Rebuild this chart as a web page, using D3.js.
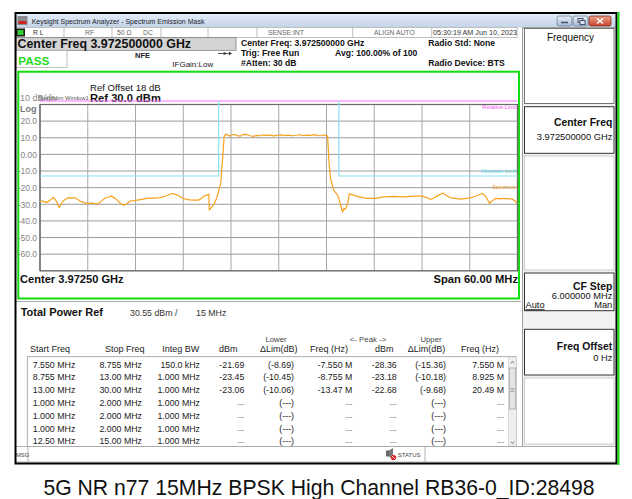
<!DOCTYPE html>
<html><head><meta charset="utf-8">
<script src="https://cdn.jsdelivr.net/npm/d3@7"></script>
<style>body{margin:0;background:#fff}svg{display:block;font-family:"Liberation Sans",Arial,sans-serif}</style>
</head><body><svg id="c" width="632" height="499"></svg>
<script>
// ---------- DATA ----------
const traceFreq = [-30.0,-29.6,-29.2,-28.8,-28.3,-27.9,-27.6,-27.3,-27.1,-26.8,-26.4,-26.0,-25.7,-25.3,-25.0,-24.5,-24.1,-23.6,-23.1,-22.7,-22.2,-21.8,-21.4,-21.0,-20.6,-20.3,-19.9,-19.5,-19.1,-18.7,-18.2,-17.8,-17.2,-16.6,-15.8,-14.9,-14.2,-13.4,-12.8,-12.0,-11.4,-10.9,-10.1,-9.7,-9.4,-9.0,-8.78,-8.72,-8.5,-8.2,-7.9,-7.57,-7.27,-7.15,-7.02,-6.86,-6.7,-6.4,-6.1,-5.8,-5.5,-5.2,-4.8,-4.5,-4.0,-3.6,-3.2,-2.8,-2.3,-1.9,-1.5,-1.0,-0.6,-0.2,0.3,0.8,1.2,1.7,2.2,2.6,3.1,3.6,4.0,4.5,5.0,5.4,5.8,6.14,6.31,6.48,6.7,6.9,7.15,7.4,7.6,7.74,7.9,8.03,8.2,8.37,8.5,8.66,8.87,9.41,10.25,11.09,12.14,13.2,14.45,15.7,16.96,18.0,18.6,19.06,19.5,19.9,20.3,20.65,21.1,21.57,22.2,22.83,23.4,24.08,24.8,25.55,25.97,26.5,26.8,27.23,27.8,28.27,28.8,29.33,29.7,29.96];
const traceLevel = [-28.5,-28.0,-29.0,-27.8,-25.9,-28.5,-31.9,-30.0,-28.0,-27.0,-26.0,-26.3,-25.9,-26.8,-28.0,-29.0,-29.5,-29.3,-29.6,-29.7,-27.8,-26.2,-25.6,-25.1,-26.3,-27.5,-29.5,-30.5,-29.8,-28.0,-27.8,-27.5,-27.0,-26.5,-26.3,-26.0,-25.0,-23.5,-24.3,-26.5,-27.2,-27.5,-27.5,-26.5,-25.0,-24.5,-23.9,-33.6,-32.0,-30.5,-27.5,-22.5,-16.5,-8.0,-0.4,10.6,12.2,11.6,11.0,11.8,12.0,11.3,11.0,11.9,12.0,11.2,10.8,11.4,11.2,11.7,11.4,11.6,11.1,11.5,11.7,11.3,11.6,11.2,11.5,11.8,11.3,11.6,11.4,11.9,11.2,11.5,11.6,11.0,-4.4,-13.5,-18.0,-21.5,-23.0,-24.5,-27.5,-29.5,-33.0,-34.6,-32.5,-33.0,-31.5,-29.5,-23.7,-24.5,-25.7,-26.5,-26.5,-25.5,-25.3,-25.5,-25.1,-25.1,-26.0,-27.1,-26.2,-25.1,-24.0,-23.3,-24.8,-26.1,-26.5,-26.9,-26.6,-26.1,-25.0,-23.5,-25.0,-29.5,-28.0,-26.5,-26.8,-26.5,-26.6,-26.9,-28.0,-29.5];
const absLimitFreqLeft = [-30, -7.55, -7.55];
const absLimitLevelLeft = [-13, -13, 32.1];
const absLimitFreqRight = [7.55, 7.55, 30];
const absLimitLevelRight = [32.1, -13, -13];
const relLimitFreq = [-30, 30];
const relLimitLevel = [32.1, 32.1];
const yTicks = [20, 10, 0, -10, -20, -30, -40, -50, -60];
const yTickLabels = ["20.0","10.0","0.00","-10.0","-20.0","-30.0","-40.0","-50.0","-60.0"];
const xGridFreqs = [-30,-24,-18,-12,-6,0,6,12,18,24,30];
const yGridLevels = [30,20,10,0,-10,-20,-30,-40,-50,-60,-70];

const colStart = ["7.550 MHz","8.755 MHz","13.00 MHz","1.000 MHz","1.000 MHz","1.000 MHz","12.50 MHz"];
const colStop  = ["8.755 MHz","13.00 MHz","30.00 MHz","2.000 MHz","2.000 MHz","2.000 MHz","15.00 MHz"];
const colBW    = ["150.0 kHz","1.000 MHz","1.000 MHz","1.000 MHz","1.000 MHz","1.000 MHz","1.000 MHz"];
const colLowDbm = ["-21.69","-23.45","-23.06","---","---","---","---"];
const colLowLim = ["(-8.69)","(-10.45)","(-10.06)","(---)","(---)","(---)","(---)"];
const colLowFreq = ["-7.550 M","-8.755 M","-13.47 M","---","---","---","---"];
const colUpDbm = ["-28.36","-23.18","-22.68","---","---","---","---"];
const colUpLim = ["(-15.36)","(-10.18)","(-9.68)","(---)","(---)","(---)","(---)"];
const colUpFreq = ["7.550 M","8.925 M","20.49 M","---","---","---","---"];
const tableHeaders = ["Start Freq","Stop Freq","Integ BW","dBm","\u0394Lim(dB)","Freq (Hz)","dBm","\u0394Lim(dB)","Freq (Hz)"];

// ---------- DRAW ----------
const svg = d3.select("#c");
function txt(x, y, s, size, opts = {}) {
  const t = svg.append("text").attr("x", x).attr("y", y).text(s)
    .attr("font-size", size).attr("fill", opts.fill || "#000");
  if (opts.bold) t.attr("font-weight", "bold");
  if (opts.anchor) t.attr("text-anchor", opts.anchor);
  return t;
}
function rect(x, y, w, h, fill, stroke, sw) {
  return svg.append("rect").attr("x", x).attr("y", y).attr("width", w).attr("height", h)
    .attr("fill", fill || "none").attr("stroke", stroke || "none").attr("stroke-width", sw || 1);
}
function line(x1, y1, x2, y2, stroke, sw) {
  return svg.append("line").attr("x1", x1).attr("y1", y1).attr("x2", x2).attr("y2", y2)
    .attr("stroke", stroke).attr("stroke-width", sw || 1);
}

// window background
rect(15, 13, 602, 451, "#ffffff");

// title bar
const defs = svg.append("defs");
const g1 = defs.append("linearGradient").attr("id", "tb").attr("x1", 0).attr("y1", 0).attr("x2", 0).attr("y2", 1);
g1.append("stop").attr("offset", "0").attr("stop-color", "#e3ecf7");
g1.append("stop").attr("offset", "1").attr("stop-color", "#c3d3e8");
rect(15, 14, 602, 13.5, "url(#tb)");
rect(17.5, 16, 10, 9, "#8a8a8a");
rect(18.5, 21, 8, 3, "#cc2222");
txt(31.7, 23.5, "Keysight Spectrum Analyzer - Spectrum Emission Mask", 7, { fill: "#1a1a2a" });
// window buttons
const bg = defs.append("linearGradient").attr("id", "bb").attr("x1", 0).attr("y1", 0).attr("x2", 0).attr("y2", 1);
bg.append("stop").attr("offset", "0").attr("stop-color", "#e8eef7");
bg.append("stop").attr("offset", "1").attr("stop-color", "#a9bad3");
const rg = defs.append("linearGradient").attr("id", "rb").attr("x1", 0).attr("y1", 0).attr("x2", 0).attr("y2", 1);
rg.append("stop").attr("offset", "0").attr("stop-color", "#f0a08c");
rg.append("stop").attr("offset", "1").attr("stop-color", "#c8452c");
rect(557, 16, 15, 10, "url(#bb)", "#6d7f9a", 0.8).attr("rx", 2);
rect(573, 16, 15, 10, "url(#bb)", "#6d7f9a", 0.8).attr("rx", 2);
rect(589, 16, 22, 10, "url(#rb)", "#7a2a1a", 0.8).attr("rx", 2);
line(561, 22.5, 568, 22.5, "#44546e", 1.5);
rect(578, 18.5, 5, 4, "none", "#44546e", 1);
rect(580, 20.5, 5, 4, "#dde6f2", "#44546e", 1);
line(597, 18.5, 603, 23.5, "#fff", 1.6);
line(603, 18.5, 597, 23.5, "#fff", 1.6);

// status row
rect(15.5, 27.5, 501.5, 10, "#fff", "#b0b0b0", 0.8);
[64, 112, 161, 208, 257, 352.7, 431.7].forEach(x => line(x, 27.5, x, 37.5, "#b0b0b0", 0.8));
rect(16, 28.5, 9, 8, "#1a1a1a");
rect(17.5, 30, 6, 5, "#33cc33");
txt(33, 34.5, "R L", 6.8, { fill: "#333" });
txt(85, 34.5, "RF", 6.8, { fill: "#666" });
txt(117, 34.5, "50 \u03A9", 6.8, { fill: "#666" });
txt(143, 34.5, "DC", 6.8, { fill: "#666" });
txt(268, 34.5, "SENSE:INT", 6.8, { fill: "#666" });
txt(374, 34.5, "ALIGN AUTO", 6.8, { fill: "#666" });
txt(433, 34.5, "05:30:19 AM Jun 10, 2023", 7.2, { fill: "#333" });

// center freq / pass
rect(16, 37.7, 220, 12.6, "#d4d4d4", "#808080", 0.8);
txt(17.5, 48, "Center Freq 3.972500000 GHz", 12.4, { bold: true, fill: "#111" });
rect(16, 50.5, 51, 17, "#fff", "#b0b0b0", 0.8);
txt(18.3, 65, "PASS", 11.7, { bold: true, fill: "#22dd22" });
txt(135, 57.5, "NFE", 7.5, { bold: true, fill: "#222" });
txt(172.3, 66.5, "IFGain:Low", 8, { fill: "#222" });
line(218, 53.5, 231, 53.5, "#333", 0.8);
svg.append("circle").attr("cx", 224.5).attr("cy", 53.5).attr("r", 1.3).attr("fill", "#333");
svg.append("path").attr("d", "M229,51.8 L232,53.5 L229,55.2 Z").attr("fill", "#333");
txt(241, 46, "Center Freq: 3.972500000 GHz", 8.6, { bold: true, fill: "#111" });
txt(241, 56, "Trig: Free Run", 8.6, { bold: true, fill: "#111" });
txt(241, 66, "#Atten: 30 dB", 8.6, { bold: true, fill: "#111" });
txt(335, 56, "Avg: 100.00% of 100", 8.6, { bold: true, fill: "#111" });
txt(428.3, 46, "Radio Std: None", 8.6, { bold: true, fill: "#111" });
txt(428.3, 66, "Radio Device: BTS", 8.6, { bold: true, fill: "#111" });

// ---------- PLOT ----------
const x = d3.scaleLinear().domain([-30, 30]).range([40, 517.5]);
const y = d3.scaleLinear().domain([30, -70]).range([104.5, 270.8]);

// green frame
rect(18.3, 71.7, 500.7, 226.8, "#fff", "#11dd11", 2);

// grid
yGridLevels.forEach(v => line(x(-30), y(v), x(30), y(v), "#9a9a9a", 1));
xGridFreqs.forEach(f => line(x(f), y(30), x(f), y(-70), (f === -30 || f === 30) ? "#777" : "#a8a8a8", (f === -30 || f === 30) ? 1.2 : 1));
rect(x(-30), y(30), x(30) - x(-30), y(-70) - y(30), "none", "#6a6a6a", 1.2);

// y axis labels
const yAxis = d3.axisLeft(y).tickValues(yTicks).tickSize(0).tickPadding(3)
  .tickFormat((d, i) => yTickLabels[i]);
const ya = svg.append("g").attr("transform", `translate(${x(-30)},0)`).call(yAxis);
ya.select(".domain").remove();
ya.selectAll("text").attr("font-size", 8.5).attr("fill", "#858585")
  .attr("font-family", '"Liberation Sans",Arial,sans-serif');

// texts
txt(20, 100.5, "10 dB/div", 9, { fill: "#8a8a8a" });
txt(38.5, 99.5, "Spectrum Window1", 5.8, { fill: "#555" });
txt(20, 111.5, "Log", 9, { fill: "#7a7a7a", bold: true });
txt(90, 90.5, "Ref Offset 18 dB", 9.6, { fill: "#111" });
txt(90, 101.5, "Ref 30.0 dBm", 11.2, { bold: true, fill: "#111" });
txt(20, 283, "Center 3.97250 GHz", 11.1, { bold: true, fill: "#111" });
txt(518, 283, "Span 60.00 MHz", 11.2, { bold: true, fill: "#111", anchor: "end" });

const lineGen = (fs, ls) => d3.line().x((d, i) => x(fs[i])).y((d, i) => y(ls[i]))(fs);

// relative limit
svg.append("path").attr("d", lineGen(relLimitFreq, relLimitLevel)).attr("fill", "none")
  .attr("stroke", "#ff70ff").attr("stroke-width", 1.2);
// absolute limit
svg.append("path").attr("d", lineGen(absLimitFreqLeft, absLimitLevelLeft)).attr("fill", "none")
  .attr("stroke", "#86e6f2").attr("stroke-width", 1.2);
svg.append("path").attr("d", lineGen(absLimitFreqRight, absLimitLevelRight)).attr("fill", "none")
  .attr("stroke", "#86e6f2").attr("stroke-width", 1.2);
// trace
svg.append("path").attr("d", lineGen(traceFreq, traceLevel)).attr("fill", "none")
  .attr("stroke", "#f7a21e").attr("stroke-width", 1.2).attr("stroke-linejoin", "round");

txt(517, 108.5, "Relative Limit", 5.8, { fill: "#ee55ee", anchor: "end" });
txt(517, 173, "Absolute Limit", 5.8, { fill: "#55d4e4", anchor: "end" });
txt(517, 189, "Spectrum", 5.8, { fill: "#f0a030", anchor: "end" });

// ---------- TABLE ----------
line(16, 301.5, 521, 301.5, "#a8a8a8", 1.2);
txt(20.7, 316, "Total Power Ref", 11, { bold: true, fill: "#111" });
txt(130, 315.5, "30.55 dBm /", 8.8, { fill: "#333" });
txt(196, 315.5, "15 MHz", 8.8, { fill: "#333" });
txt(276, 341.5, "Lower", 7.8, { fill: "#444", anchor: "middle" });
txt(368, 341.5, "<- Peak ->", 7.8, { fill: "#444", anchor: "middle" });
txt(431, 341.5, "Upper", 7.8, { fill: "#444", anchor: "middle" });
const headerX = [30, 105, 162.3, 219, 260, 310, 375, 407.7, 461];
tableHeaders.forEach((h, i) => txt(headerX[i], 351.5, h, 9, { fill: "#222" }));

rect(27.3, 356.7, 489, 90, "#fff", "#9a9a9a", 0.8);
const cols = [colStart, colStop, colBW, colLowDbm, colLowLim, colLowFreq, colUpDbm, colUpLim, colUpFreq];
const colRight = [75.3, 142, 200, 244.3, 294, 352.3, 396.7, 446, 504];
cols.forEach((c, ci) => c.forEach((v, ri) => {
  const dash = v === "---";
  txt(colRight[ci], 367.5 + ri * 12.8, v, dash ? 7 : 8.8, { fill: dash ? "#666" : "#222", anchor: "end" });
}));
// scrollbar
rect(508.5, 357, 8, 89, "#efefef", "#c4c4c4", 0.6);
rect(509.3, 368, 6.4, 41, "#e4e4e4", "#a0a0a0", 0.7);
svg.append("path").attr("d", "M510.8,363.5 L512.5,361.3 L514.2,363.5").attr("fill", "none").attr("stroke", "#555").attr("stroke-width", 0.7);
svg.append("path").attr("d", "M510.8,441.5 L512.5,443.7 L514.2,441.5").attr("fill", "none").attr("stroke", "#555").attr("stroke-width", 0.7);
[388.5, 390, 391.5].forEach(yy => line(510.6, yy, 514.4, yy, "#777", 0.5));

// ---------- RIGHT PANEL ----------
rect(522.5, 27.5, 94, 419, "#f2f2f2", "#a0a0a0", 1);
rect(524.5, 28.5, 89.5, 75, "#fff", "#555", 0.8);
txt(570.5, 41.3, "Frequency", 10, { fill: "#111", anchor: "middle" });
rect(524.5, 106.7, 89.5, 46.6, "#fff", "#333", 1);
txt(612.3, 126, "Center Freq", 10.4, { bold: true, fill: "#111", anchor: "end" });
txt(612.3, 140, "3.972500000 GHz", 9.3, { fill: "#111", anchor: "end" });
rect(524.5, 156, 89.5, 114, "#fff", "#b0b0b0", 0.6);
rect(524.5, 273, 89.5, 37.7, "#fff", "#333", 1);
txt(612.3, 290, "CF Step", 10.4, { bold: true, fill: "#111", anchor: "end" });
txt(612.3, 299.3, "6.000000 MHz", 9.3, { fill: "#111", anchor: "end" });
txt(525.5, 308.3, "Auto", 9.3, { fill: "#111" }).attr("text-decoration", "underline");
txt(612.3, 308.3, "Man", 9.3, { fill: "#111", anchor: "end" });
rect(524.5, 329.3, 89.5, 45.7, "#fff", "#333", 1);
txt(612.3, 350, "Freq Offset", 10.4, { bold: true, fill: "#111", anchor: "end" });
txt(612.3, 361.3, "0 Hz", 9.3, { fill: "#111", anchor: "end" });
rect(524.5, 378, 89.5, 66, "#fff", "#b0b0b0", 0.6);

// ---------- MSG BAR ----------
rect(15.5, 446.5, 601, 15.5, "#fff", "#a0a0a0", 0.8);
line(28, 446.5, 28, 462, "#a0a0a0", 0.8);
line(425, 446.5, 425, 462, "#a0a0a0", 0.8);
txt(16, 456.5, "MSG", 5.8, { fill: "#444" });
rect(386, 450.5, 3, 6, "#666");
svg.append("path").attr("d", "M389,450.5 L393,448 L393,459 L389,456.5 Z").attr("fill", "#777");
svg.append("circle").attr("cx", 393.5).attr("cy", 457.5).attr("r", 2.6).attr("fill", "#e02020");
line(391.8, 455.8, 395.2, 459.2, "#fff", 0.8);
txt(397.7, 457, "STATUS", 6, { fill: "#444" });

// window borders
rect(15.5, 13, 601, 450.5, "none", "#000", 2);
line(618.5, 12, 618.5, 465, "#11dd11", 2);

// ---------- CAPTION ----------
txt(319, 494.5, "5G NR n77 15MHz BPSK High Channel RB36-0_ID:28498", 21.2, { fill: "#111", anchor: "middle" });
</script></body></html>
